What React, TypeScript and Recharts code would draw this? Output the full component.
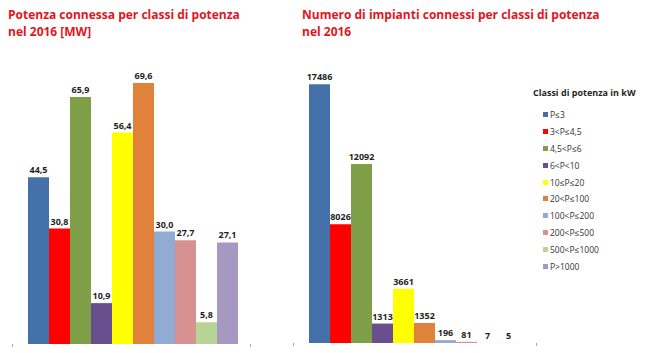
import React from "react";
import { BarChart, Bar, XAxis, YAxis, LabelList, usePlotArea } from "recharts";

const classi = [
  "P≤3",
  "3<P≤4,5",
  "4,5<P≤6",
  "6<P<10",
  "10≤P≤20",
  "20<P≤100",
  "100<P≤200",
  "200<P≤500",
  "500<P≤1000",
  "P>1000",
];
const colori = [
  "#4471a9",
  "#fe0000",
  "#7e9e48",
  "#6a4f8e",
  "#ffff00",
  "#e0813c",
  "#92abd5",
  "#d59290",
  "#b8d494",
  "#a798c2",
];
const potenzaMW = [44.5, 30.8, 65.9, 10.9, 56.4, 69.6, 30.0, 27.7, 5.8, 27.1];
const numeroImpianti = [17486, 8026, 12092, 1313, 3661, 1352, 196, 81, 7, 5];
const anno = "2016";

const FONT = '"Open Sans", "DejaVu Sans", sans-serif';
const RED = "#e3151d";

const toRow = (values: number[]) => {
  const row: Record<string, string | number> = { name: anno };
  values.forEach((v, i) => (row["c" + i] = v));
  return [row];
};

// piccole tacche alle estremità dell'asse orizzontale
const AxisEnds = () => {
  const plot = usePlotArea();
  if (!plot) return null;
  const y = plot.y + plot.height;
  return (
    <g stroke="#a6a6a6" strokeWidth={1}>
      <line x1={plot.x + 0.5} y1={y} x2={plot.x + 0.5} y2={y + 3} />
      <line x1={plot.x + plot.width - 0.5} y1={y} x2={plot.x + plot.width - 0.5} y2={y + 3} />
    </g>
  );
};

interface PanelProps {
  values: number[];
  max: number;
  width: number;
  margin: { top: number; right: number; left: number; bottom: number };
  format: (v: number) => string;
}

const Panel: React.FC<PanelProps> = ({ values, max, width, margin, format }) => (
  <BarChart
    width={width}
    height={353}
    data={toRow(values)}
    margin={margin}
    barGap={0}
    barCategoryGap={16}
  >
    <XAxis
      dataKey="name"
      height={0}
      tick={false}
      tickLine={false}
      axisLine={{ stroke: "#a6a6a6" }}
    />
    <YAxis hide domain={[0, max]} />
    {values.map((_, i) => (
      <Bar key={i} dataKey={"c" + i} fill={colori[i]} isAnimationActive={false}>
        <LabelList
          dataKey={"c" + i}
          position="top"
          offset={4}
          formatter={(v: number) => format(Number(v))}
          style={{ fontFamily: FONT, fontWeight: 700, fontSize: 9, fill: "#1f1f1f" }}
        />
      </Bar>
    ))}
    <AxisEnds />
  </BarChart>
);

const titleStyle: React.CSSProperties = {
  position: "absolute",
  top: 6,
  fontFamily: FONT,
  fontWeight: 700,
  fontSize: 12,
  lineHeight: "17px",
  color: RED,
  whiteSpace: "nowrap",
};

export default function App() {
  return (
    <div
      style={{
        position: "absolute",
        left: 0,
        top: 0,
        width: 650,
        height: 353,
        background: "#fff",
        overflow: "hidden",
      }}
    >
      <div style={{ position: "absolute", left: 0, top: 0 }}>
        <Panel
          values={potenzaMW}
          max={80}
          width={260}
          margin={{ top: 44, right: 9, left: 12, bottom: 9 }}
          format={(v) => v.toFixed(1).replace(".", ",")}
        />
      </div>
      <div style={{ position: "absolute", left: 280, top: 0 }}>
        <Panel
          values={numeroImpianti}
          max={20000}
          width={270}
          margin={{ top: 47, right: 13, left: 13, bottom: 10 }}
          format={(v) => String(v)}
        />
      </div>

      <div style={{ ...titleStyle, left: 8 }}>
        Potenza connessa per classi di potenza
        <br />
        nel {anno} [MW]
      </div>
      <div style={{ ...titleStyle, left: 302 }}>
        Numero di impianti connessi per classi di potenza
        <br />
        nel {anno}
      </div>

      <div style={{ position: "absolute", left: 533, top: 86, fontFamily: FONT }}>
        <div style={{ fontWeight: 700, fontSize: 9, lineHeight: "14px", color: "#1f1f1f", whiteSpace: "nowrap" }}>
          Classi di potenza in kW
        </div>
        <div style={{ marginTop: 6 }}>
          {classi.map((c, i) => (
            <div
              key={c}
              style={{
                display: "flex",
                alignItems: "center",
                height: 16.9,
                marginLeft: 10,
                fontSize: 8.5,
                color: "#333",
                whiteSpace: "nowrap",
              }}
            >
              <span
                style={{
                  display: "inline-block",
                  width: 5,
                  height: 5,
                  background: colori[i],
                  marginRight: 2,
                }}
              />
              {c}
            </div>
          ))}
        </div>
      </div>
    </div>
  );
}
